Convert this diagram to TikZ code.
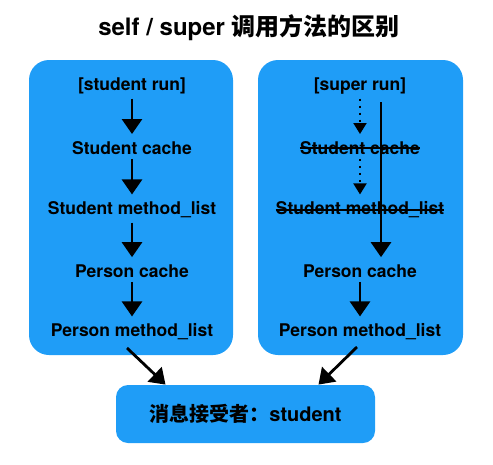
\documentclass[tikz,border=0pt]{standalone}
\usepackage{fontspec}
\setmainfont{TeX Gyre Heros}
\newfontfamily\cjk{Noto Sans CJK SC}
\usetikzlibrary{arrows.meta}
\definecolor{boxblue}{RGB}{31,157,247}

\begin{document}
\begin{tikzpicture}[x=1pt,y=-1pt,thick]
  \tikzstyle{every node} = [font=\bfseries\fontsize{17.5}{17.5}\selectfont, inner sep=4pt];
  \tikzstyle{big} = [line width=2.8pt, shorten >=3pt, -{Triangle[width=20pt,length=15pt]}];
  \tikzstyle{dotarrow} = [line width=2pt, dash pattern=on 2pt off 5pt, shorten >=3pt, -{Triangle[width=13pt,length=11pt]}];
  \useasboundingbox (0,0) rectangle (493,464);
  \fill[boxblue, rounded corners=20pt] (29,60) rectangle (233,355);
  \fill[boxblue, rounded corners=20pt] (258,60) rectangle (463,355);
  \node(title) at (249,28) {\fontsize{24}{24}\selectfont self / super {\cjk\bfseries 调用方法的区别}};
  \foreach \i/\y/\t in {0/86/[student run],1/148/Student cache,2/210/Student method\_list,3/271/Person cache,4/332/Person method\_list}{
    \node(l\i) at (132,\y) {\t};
  }
  \foreach \i/\y/\t in {0/86/[super run],1/148/Student cache,2/210/Student method\_list,3/271/Person cache,4/332/Person method\_list}{
    \node(r\i) at (360,\y) {\t};
  }
  \node[fill=boxblue, rounded corners=12pt, minimum width=259pt, minimum height=58pt,
    font=\bfseries\fontsize{20}{20}\selectfont] (recv) at (245.5,414)
    {{\cjk\bfseries 消息接受者：}student};
  \coordinate (s) at (381,102);
  \coordinate (la) at (127,348);
  \coordinate (rb) at (357,347);
  % self
  \foreach \i/\ii in {0/1,1/2,2/3,3/4}{
    \draw[big] (l\i) -- (l\ii);
  }
  % super
  \draw[dotarrow] (r0) -- (r1);
  \draw[dotarrow] (r1) -- (r2);
  \foreach \i in {1,2}{
    \draw[line width=1.2pt] ([xshift=4pt]r\i.west) -- ([xshift=-4pt]r\i.east);
  }
  \draw[big] (s) -- (r3.north -| s);
  \draw[big] (r3) -- (r4);
  % receiver
  \draw[big, shorten >=0pt] (la) -- ([xshift=-80pt]recv.north);
  \draw[big, shorten >=0pt] (rb) -- ([xshift=73pt]recv.north);
\end{tikzpicture}
\end{document}
